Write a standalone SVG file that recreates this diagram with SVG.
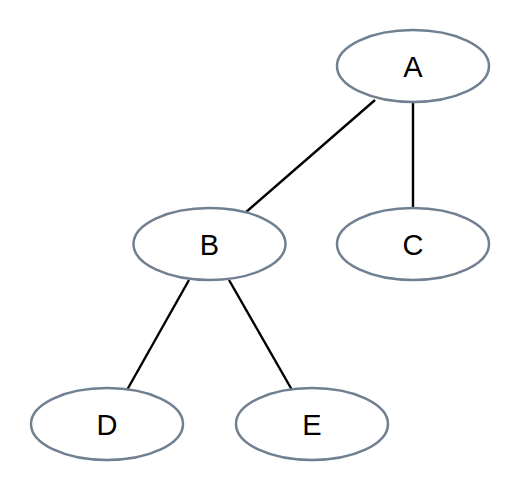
<svg xmlns="http://www.w3.org/2000/svg" width="521" height="492" viewBox="0 0 521 492">
<style>
.n ellipse{fill:#fff;stroke:#708090;stroke-width:2.5}
.n text{font-family:"Liberation Sans",Arial,sans-serif;font-size:29px;fill:#000;text-anchor:middle;dominant-baseline:central}
.e line{stroke:#000;stroke-width:2.4}
</style>
<rect width="521" height="492" fill="#fff"/>
<g class="e">
<line x1="375" y1="100" x2="245" y2="213"/>
<line x1="413" y1="102" x2="413" y2="209"/>
<line x1="189" y1="280" x2="127" y2="390"/>
<line x1="229" y1="280" x2="292" y2="390"/>
</g>
<g id="A" class="n"><ellipse cx="413" cy="66" rx="76" ry="36"/><text x="413" y="67">A</text></g>
<g id="B" class="n"><ellipse cx="209.5" cy="244" rx="76" ry="36"/><text x="209.5" y="245">B</text></g>
<g id="C" class="n"><ellipse cx="413" cy="244" rx="76" ry="36"/><text x="413" y="245">C</text></g>
<g id="D" class="n"><ellipse cx="107" cy="424" rx="76" ry="36"/><text x="107" y="425">D</text></g>
<g id="E" class="n"><ellipse cx="312" cy="424" rx="76" ry="36"/><text x="312" y="425">E</text></g>
</svg>
